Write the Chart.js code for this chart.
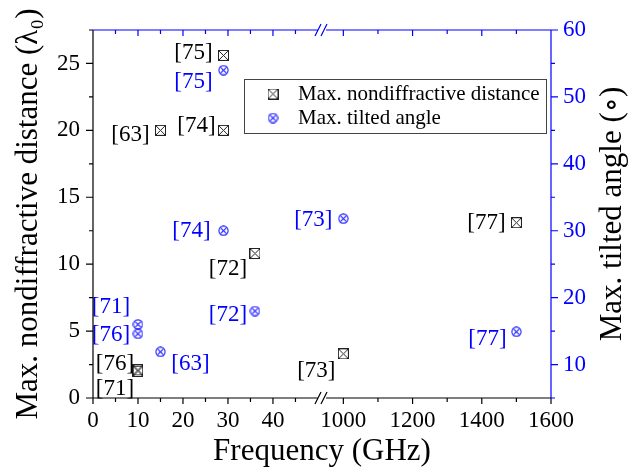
<!DOCTYPE html>
<html>
<head>
<meta charset="utf-8">
<script src="https://cdn.jsdelivr.net/npm/chart.js@4.4.1/dist/chart.umd.min.js"></script>
<style>
  html, body { margin: 0; padding: 0; background: #fff; }
</style>
</head>
<body>
<canvas id="freqChart" width="640" height="472"></canvas>
<script>
// values
const distFreq = [10, 10, 15, 29, 29, 36, 1000, 1500];
const distValue = [2.1, 2.0, 20.0, 25.6, 20.0, 10.8, 3.3, 13.1];
const distRefs = ['[76]', '[71]', '[63]', '[75]', '[74]', '[72]', '[73]', '[77]'];

const angleFreq = [10, 10, 15, 29, 29, 36, 1000, 1500];
const angleValue = [16.0, 14.6, 11.9, 54.0, 30.0, 18.0, 31.8, 14.9];
const angleRefs = ['[71]', '[76]', '[63]', '[75]', '[74]', '[72]', '[73]', '[77]'];

const xTickLabels = [0, 10, 20, 30, 40, 1000, 1200, 1400, 1600];
const xMinorTicks = [5, 15, 25, 35, 45, 1100, 1300, 1500];
const leftTicks = [0, 5, 10, 15, 20, 25];
const rightTicks = [10, 20, 30, 40, 50, 60];

// broken x axis: 0-50 | 950-1600
const breakLo = 50, breakHi = 950, xEnd = 1600, gapU = 1.8;
function toAxis(f) {
    return f <= breakLo ? f : breakLo + gapU + (f - breakHi) * breakLo / (xEnd - breakHi);
}

const serif = "'Liberation Serif', 'Times New Roman', 'DejaVu Serif', serif";
const blue = '#0000ff';

// marker images
function makeMarker(kind) {
    const c = document.createElement('canvas');
    c.width = 11; c.height = 11;
    const g = c.getContext('2d');
    g.lineWidth = 1;
    if (kind === 'square') {
        g.strokeStyle = '#222';
        g.strokeRect(0.5, 0.5, 10, 10);
        g.beginPath();
        g.moveTo(0.5, 0.5); g.lineTo(10.5, 10.5);
        g.moveTo(10.5, 0.5); g.lineTo(0.5, 10.5);
        g.stroke();
    } else {
        g.strokeStyle = '#1a1aff';
        g.lineWidth = 1.1;
        g.beginPath();
        g.arc(5.5, 5.5, 4.6, 0, Math.PI * 2);
        g.stroke();
        g.beginPath();
        g.moveTo(2.3, 2.3); g.lineTo(8.7, 8.7);
        g.moveTo(8.7, 2.3); g.lineTo(2.3, 8.7);
        g.stroke();
    }
    return c;
}
const squareX = makeMarker('square');
const circleX = makeMarker('circle');

// label placement (label centre relative to the marker, px)
const distLabelOffset = [[-23, -6], [-23, 18], [-30, 5], [-30, -2], [-27, -4], [-27, 15], [-27, 17], [-30, 0]];
const angleLabelOffset = [[-27, -17], [-27, 1], [30, 12], [-30, 12], [-32, 0], [-27, 4], [-30, 1], [-29, 7]];

const refLabels = {
    id: 'refLabels',
    afterDatasetsDraw(chart) {
        const ctx = chart.ctx;
        ctx.save();
        ctx.font = '23px ' + serif;
        ctx.textAlign = 'center';
        ctx.textBaseline = 'middle';
        const sets = [[distRefs, distLabelOffset, '#000'], [angleRefs, angleLabelOffset, blue]];
        sets.forEach(([refs, offs, col], di) => {
            const meta = chart.getDatasetMeta(di);
            ctx.fillStyle = col;
            meta.data.forEach((pt, i) => {
                ctx.fillText(refs[i], pt.x + offs[i][0], pt.y + offs[i][1]);
            });
        });
        ctx.restore();
    }
};

const frameDecor = {
    id: 'frameDecor',
    afterDraw(chart) {
        const {ctx, chartArea: a, scales: {x, y, y1}} = chart;
        const px = f => x.getPixelForValue(toAxis(f));
        const bl = px(breakLo), br = px(breakHi);
        const bc = (bl + br) / 2;
        ctx.save();
        ctx.lineWidth = 1.2;

        // left axis (black)
        ctx.strokeStyle = '#000';
        ctx.beginPath();
        ctx.moveTo(a.left, a.top); ctx.lineTo(a.left, a.bottom);
        leftTicks.forEach(v => { const p = y.getPixelForValue(v); ctx.moveTo(a.left, p); ctx.lineTo(a.left - 7, p); });
        for (let v = 2.5; v <= 27.5; v += 5) { const p = y.getPixelForValue(v); ctx.moveTo(a.left, p); ctx.lineTo(a.left - 4, p); }
        // bottom axis (black) with break
        ctx.moveTo(a.left, a.bottom); ctx.lineTo(bl, a.bottom);
        ctx.moveTo(br, a.bottom); ctx.lineTo(a.right, a.bottom);
        xTickLabels.forEach(v => { const p = px(v); ctx.moveTo(p, a.bottom); ctx.lineTo(p, a.bottom + 6); });
        xMinorTicks.forEach(v => { const p = px(v); ctx.moveTo(p, a.bottom); ctx.lineTo(p, a.bottom + 4); });
        for (let i = 0; i < 2; i++) {
            ctx.moveTo(bc - 7 + i * 6, a.bottom + 6); ctx.lineTo(bc - 1 + i * 6, a.bottom - 6);
        }
        ctx.stroke();

        // top and right axes (blue)
        ctx.strokeStyle = blue;
        ctx.beginPath();
        ctx.moveTo(a.left, a.top); ctx.lineTo(bl, a.top);
        ctx.moveTo(br, a.top); ctx.lineTo(a.right, a.top);
        for (let v = 5; v < breakLo; v += 5) { const p = px(v); ctx.moveTo(p, a.top); ctx.lineTo(p, a.top + (v % 10 ? 4 : 6)); }
        for (let v = 1000; v < xEnd; v += 100) { const p = px(v); ctx.moveTo(p, a.top); ctx.lineTo(p, a.top + (v % 200 ? 4 : 6)); }
        for (let i = 0; i < 2; i++) {
            ctx.moveTo(bc - 7 + i * 6, a.top + 6); ctx.lineTo(bc - 1 + i * 6, a.top - 6);
        }
        ctx.moveTo(a.right, a.top); ctx.lineTo(a.right, a.bottom);
        rightTicks.forEach(v => { const p = y1.getPixelForValue(v); ctx.moveTo(a.right, p); ctx.lineTo(a.right + 7, p); });
        for (let v = 5; v < 60; v += 10) { const p = y1.getPixelForValue(v); ctx.moveTo(a.right, p); ctx.lineTo(a.right + 4, p); }
        ctx.stroke();

        // right title, reads bottom to top
        ctx.fillStyle = '#000';
        ctx.font = '31px ' + serif;
        ctx.textAlign = 'center';
        ctx.textBaseline = 'middle';
        ctx.translate(613, (a.top + a.bottom) / 2);
        ctx.rotate(-Math.PI / 2);
        ctx.fillText('Max. tilted angle (\u2218)', 0, 0);
        ctx.restore();

        // legend box
        ctx.save();
        const lx = a.right - 307, ly = a.top + 49;
        ctx.strokeStyle = '#444';
        ctx.lineWidth = 1;
        ctx.strokeRect(lx + 0.5, ly + 0.5, 302, 54);
        const items = [[squareX, chart.data.datasets[0].label], [circleX, chart.data.datasets[1].label]];
        ctx.font = '21px ' + serif;
        ctx.fillStyle = '#000';
        ctx.textBaseline = 'middle';
        items.forEach(([img, txt], i) => {
            const ry = ly + 15 + i * 24;
            ctx.drawImage(img, lx + 29 - 5.5, ry - 5.5);
            ctx.fillText(txt, lx + 54, ry);
        });
        ctx.restore();
    }
};

const data = {
    datasets: [
        {
            label: 'Max. nondiffractive distance',
            data: distFreq.map((f, i) => ({x: toAxis(f), y: distValue[i]})),
            yAxisID: 'y',
            pointStyle: squareX,
            pointRadius: 5.5,
        },
        {
            label: 'Max. tilted angle',
            data: angleFreq.map((f, i) => ({x: toAxis(f), y: angleValue[i]})),
            yAxisID: 'y1',
            pointStyle: circleX,
            pointRadius: 5.5,
        },
    ],
};

const config = {
    type: 'scatter',
    data: data,
    options: {
        responsive: false,
        animation: false,
        layout: {padding: {top: 30, left: 0, right: 0, bottom: 0}},
        scales: {
            x: {
                type: 'linear',
                min: 0,
                max: toAxis(xEnd),
                grid: {display: false, drawTicks: false},
                border: {display: false},
                afterBuildTicks: s => { s.ticks = xTickLabels.map(v => ({value: toAxis(v)})); },
                afterFit: s => { s.height = 74; },
                ticks: {
                    callback: (v, i) => xTickLabels[i],
                    autoSkip: false,
                    maxRotation: 0,
                    padding: 9,
                    color: '#000',
                    font: {family: serif, size: 23},
                },
                title: {
                    display: true,
                    text: 'Frequency (GHz)',
                    color: '#000',
                    font: {family: serif, size: 31},
                    padding: {top: 0, bottom: 2},
                },
            },
            y: {
                position: 'left',
                min: 0,
                max: 27.5,
                grid: {display: false, drawTicks: false},
                border: {display: false},
                afterBuildTicks: s => { s.ticks = leftTicks.map(v => ({value: v})); },
                afterFit: s => { s.width = 93; },
                ticks: {
                    padding: 13,
                    color: '#000',
                    font: {family: serif, size: 23},
                },
                title: {
                    display: true,
                    text: 'Max. nondiffractive distance (\u03bb\u2080)',
                    color: '#000',
                    font: {family: serif, size: 31},
                    padding: {top: 10, bottom: 0},
                },
            },
            y1: {
                position: 'right',
                min: 5,
                max: 60,
                grid: {display: false, drawTicks: false},
                border: {display: false},
                afterBuildTicks: s => { s.ticks = rightTicks.map(v => ({value: v})); },
                afterFit: s => { s.width = 89; },
                ticks: {
                    padding: 12,
                    color: blue,
                    font: {family: serif, size: 23},
                },
            },
        },
        plugins: {
            legend: {display: false},
            tooltip: {enabled: false},
        },
    },
    plugins: [refLabels, frameDecor],
};

const freqChart = new Chart(document.getElementById('freqChart').getContext('2d'), config);

// redraw once the serif face is surely available to the canvas
if (document.fonts && document.fonts.load) {
    Promise.all([
        document.fonts.load("23px 'Liberation Serif'"),
        document.fonts.load("31px 'Liberation Serif'"),
    ]).then(() => freqChart.update());
}
</script>
</body>
</html>
